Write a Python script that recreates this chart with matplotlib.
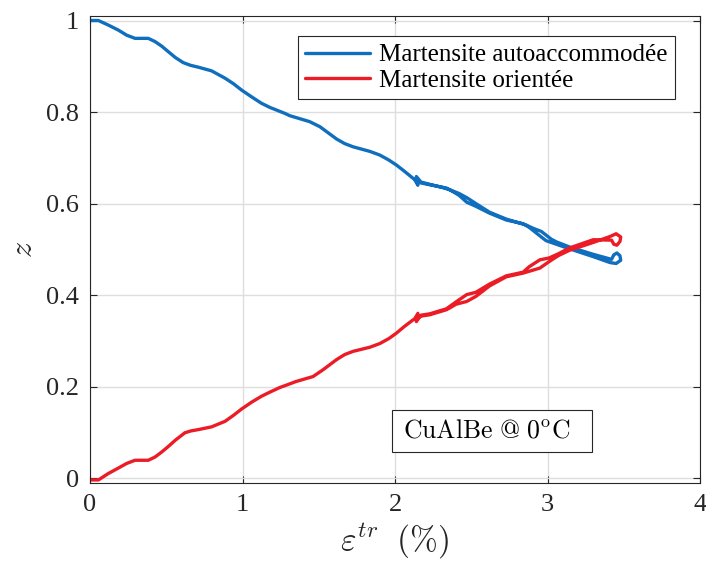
import numpy as np
import matplotlib
matplotlib.use('Agg')
import matplotlib.pyplot as plt
from matplotlib.patches import Rectangle

plt.rcParams['font.family'] = ['Liberation Serif', 'DejaVu Serif']
plt.rcParams['mathtext.fontset'] = 'cm'

# martensite autoaccommodée : aller jusqu'a 3.45 %, boucle, retour jusqu'a ~2.15 %
x_auto = [0, 0.055, 0.12, 0.186, 0.24, 0.295, 0.382, 0.426, 0.47, 0.513, 0.56, 0.611, 0.66,
          0.71, 0.797, 0.885, 0.94, 0.994, 1.06, 1.125, 1.18, 1.278, 1.31, 1.44, 1.507, 1.56,
          1.617, 1.67, 1.725, 1.835, 1.90, 1.96, 2.01, 2.06, 2.119, 2.17, 2.228, 2.337, 2.36,
          2.42, 2.47, 2.53, 2.62, 2.73, 2.84, 2.88, 2.94, 2.99, 3.05, 3.145, 3.3, 3.41,
          3.45, 3.48, 3.475, 3.455, 3.435, 3.42,
          3.3, 3.145, 3.06, 3.025, 2.96, 2.905, 2.86, 2.73, 2.62, 2.53, 2.47, 2.42, 2.36,
          2.30, 2.228, 2.17, 2.14, 2.15, 2.13, 2.16, 2.14]
z_auto = [1.0, 1.0, 0.99, 0.979, 0.968, 0.961, 0.961, 0.954, 0.944, 0.932, 0.919, 0.908, 0.902,
          0.898, 0.890, 0.874, 0.862, 0.848, 0.833, 0.819, 0.810, 0.797, 0.792, 0.779, 0.768, 0.755,
          0.741, 0.731, 0.724, 0.714, 0.706, 0.695, 0.684, 0.671, 0.655, 0.645, 0.641, 0.634, 0.630,
          0.618, 0.603, 0.594, 0.579, 0.564, 0.556, 0.548, 0.532, 0.519, 0.512, 0.501, 0.484, 0.471,
          0.469, 0.476, 0.486, 0.492, 0.488, 0.478,
          0.489, 0.505, 0.516, 0.522, 0.539, 0.546, 0.553, 0.566, 0.581, 0.600, 0.613, 0.622, 0.630,
          0.636, 0.642, 0.647, 0.659, 0.640, 0.652, 0.646, 0.650]

# martensite orientée
x_orient = [0, 0.055, 0.12, 0.186, 0.24, 0.295, 0.382, 0.426, 0.47, 0.513, 0.56, 0.622, 0.66,
            0.71, 0.797, 0.885, 0.94, 0.994, 1.06, 1.125, 1.18, 1.245, 1.278, 1.35, 1.463, 1.529,
            1.617, 1.67, 1.725, 1.835, 1.90, 1.96, 2.01, 2.06, 2.119, 2.17, 2.228, 2.337, 2.36,
            2.40, 2.47, 2.53, 2.62, 2.73, 2.84, 2.88, 2.95, 3.01, 3.07, 3.145, 3.3, 3.41,
            3.45, 3.48, 3.475, 3.455, 3.435, 3.42,
            3.3, 3.145, 3.07, 3.01, 2.95, 2.88, 2.84, 2.73, 2.62, 2.53, 2.47, 2.40, 2.337,
            2.228, 2.17, 2.14, 2.15, 2.13, 2.16, 2.14]
z_orient = [-0.004, -0.004, 0.01, 0.022, 0.032, 0.039, 0.039, 0.046, 0.057, 0.069, 0.083, 0.099, 0.103,
            0.106, 0.112, 0.124, 0.137, 0.151, 0.166, 0.179, 0.188, 0.198, 0.202, 0.211, 0.222, 0.237,
            0.259, 0.270, 0.277, 0.286, 0.294, 0.305, 0.317, 0.331, 0.346, 0.354, 0.357, 0.368, 0.372,
            0.380, 0.386, 0.397, 0.420, 0.440, 0.448, 0.452, 0.459, 0.473, 0.486, 0.498, 0.515, 0.528,
            0.534, 0.527, 0.517, 0.509, 0.511, 0.520,
            0.521, 0.503, 0.490, 0.481, 0.477, 0.462, 0.450, 0.442, 0.424, 0.406, 0.401, 0.385, 0.370,
            0.359, 0.356, 0.342, 0.360, 0.348, 0.354, 0.352]

x_ticks = [0, 1, 2, 3, 4]
z_ticks = [0, 0.2, 0.4, 0.6, 0.8, 1]
z_tick_labels = ['0', '0.2', '0.4', '0.6', '0.8', '1']

gris = (0.15, 0.15, 0.15)

fig = plt.figure(figsize=(7.06, 5.61), dpi=100)
ax = fig.add_axes([0.1275, 0.1396, 0.864, 0.832])

ax.plot(x_auto, z_auto, color='#0F6EBD', lw=2.4, label='Martensite autoaccommodée',
        solid_joinstyle='round', solid_capstyle='round')
ax.plot(x_orient, z_orient, color='#EC1C27', lw=2.4, label='Martensite orientée',
        solid_joinstyle='round', solid_capstyle='round')

ax.set_xlim(0, 4)
ax.set_ylim(-0.01, 1.01)
ax.set_xticks(x_ticks)
ax.set_xticklabels([str(t) for t in x_ticks])
ax.set_yticks(z_ticks)
ax.set_yticklabels(z_tick_labels)
ax.tick_params(direction='in', length=5, width=0.8, labelsize=19, colors=gris,
               top=True, right=True, pad=8)
for s in ax.spines.values():
    s.set_color(gris)
    s.set_linewidth(0.8)
ax.grid(True, color=(0.87, 0.87, 0.87), lw=1)
ax.set_axisbelow(True)

ax.set_xlabel(r'$\varepsilon^{tr}\;\ (\%)$', fontsize=24, color=gris, labelpad=4)
ax.set_ylabel(r'$z$', fontsize=23, color=gris, labelpad=5)

leg = ax.legend(loc='upper right', bbox_to_anchor=(0.959, 0.956), fontsize=18,
                fancybox=False, framealpha=1, edgecolor=gris, handlelength=2.6,
                borderpad=0.3, labelspacing=0.12, handletextpad=0.35, borderaxespad=0)
leg.get_frame().set_linewidth(0.8)

# cadre de l'annotation
ax.add_patch(Rectangle((1.98, 0.056), 1.31, 0.092, fc='white', ec=gris, lw=0.8, zorder=3))
ax.text(2.05, 0.104, r'$\mathrm{CuAlBe\ @\ 0^{o}C}$', fontsize=18.5, va='center', ha='left',
        zorder=4)

fig.savefig('out.png', dpi=100)
